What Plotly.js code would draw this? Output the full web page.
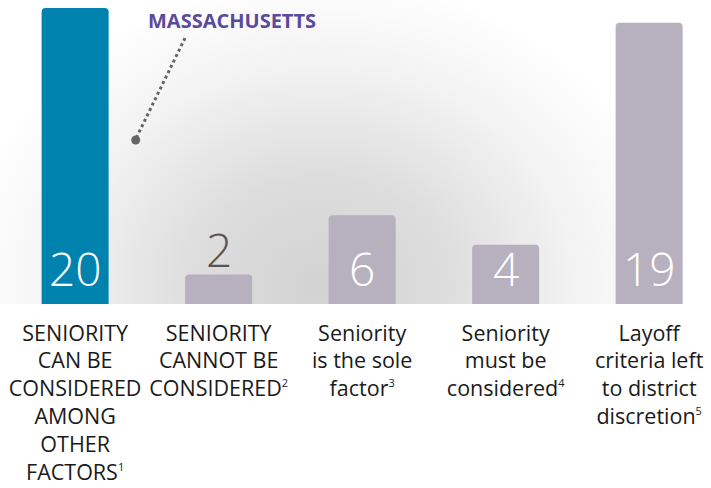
<!DOCTYPE html>
<html>
<head>
<meta charset="utf-8">
<script src="https://cdn.plot.ly/plotly-3.0.1.min.js"></script>
<style>
  html, body { margin: 0; padding: 0; background: #ffffff; }
  #wrap { position: relative; width: 711px; height: 488px; }
  #glow {
    position: absolute; left: 0; top: 0; width: 711px; height: 304px;
    background: radial-gradient(ellipse 360px 310px at 320px 285px, #d2d2d2 0%, #dddddd 35%, #f2f2f2 70%, #ffffff 100%);
  }
  #chart { position: absolute; left: 0; top: 0; width: 711px; height: 488px; }
</style>
</head>
<body>
<div id="wrap">
  <div id="glow"></div>
  <div id="chart"></div>
</div>
<script>
// layoff policy counts
const sup = n => '<sup><span style="font-size:11px">' + n + '</span></sup>';
const categories = [
    'SENIORITY<br>CAN BE<br>CONSIDERED<br>AMONG<br>OTHER<br>FACTORS' + sup(1),
    'SENIORITY<br>CANNOT BE<br>CONSIDERED' + sup(2),
    'Seniority<br>is the sole<br>factor' + sup(3),
    'Seniority<br>must be<br>considered' + sup(4),
    'Layoff<br>criteria left<br>to district<br>discretion' + sup(5)
];
const values = [20, 2, 6, 4, 19];
const barColors = ['#0082ae', '#b7b1bf', '#b7b1bf', '#b7b1bf', '#b7b1bf'];

const font = 'Open Sans, Noto Sans, sans-serif';

const trace = {
    x: categories,
    y: values,
    type: 'bar',
    marker: { color: barColors, cornerradius: 4 },
    hoverinfo: 'skip'
};

// value labels: white inside the bar, dark above it when the bar is too short
const valueLabels = values.map((v, i) => {
    const small = v < 3;
    return {
        x: categories[i],
        y: small ? v : 0,
        xref: 'x', yref: 'y',
        text: String(v),
        showarrow: false,
        yanchor: 'bottom',
        yshift: small ? -8 : 3,
        font: { family: font, size: 46, weight: 300, color: small ? '#555555' : '#ffffff' }
    };
});

const layout = {
    width: 711,
    height: 488,
    margin: { l: 0, r: 0, t: 0, b: 184 },
    paper_bgcolor: 'rgba(0,0,0,0)',
    plot_bgcolor: 'rgba(0,0,0,0)',
    bargap: 0.533,
    showlegend: false,
    xaxis: {
        type: 'category',
        range: [-0.5235, 4.431],
        showgrid: false, zeroline: false, showline: false,
        ticks: '', tickangle: 0,
        ticklabelstandoff: 14,
        tickfont: { family: font, size: 21.5, color: '#1a1a1a' },
        fixedrange: true
    },
    yaxis: {
        range: [0, 20.54],
        visible: false,
        fixedrange: true
    },
    annotations: valueLabels.concat([{
        x: 1.093, y: 19.16, xref: 'x', yref: 'y',
        text: '<b>MASSACHUSETTS</b>',
        showarrow: false,
        font: { family: font, size: 20, color: '#5a4a9c' }
    }]),
    shapes: [
        {
            type: 'line', xref: 'x', yref: 'y',
            x0: 0.766, y0: 17.97, x1: 0.425, y1: 11.2,
            line: { color: '#666666', width: 3, dash: 'dot' }
        },
        {
            type: 'circle', xref: 'x', yref: 'y',
            xsizemode: 'pixel', ysizemode: 'pixel',
            xanchor: 0.422, yanchor: 11.08,
            x0: -4.5, x1: 4.5, y0: -4.5, y1: 4.5,
            fillcolor: '#666666', line: { width: 0 }
        }
    ]
};

Plotly.newPlot('chart', [trace], layout, { displayModeBar: false, staticPlot: true });
</script>
</body>
</html>
